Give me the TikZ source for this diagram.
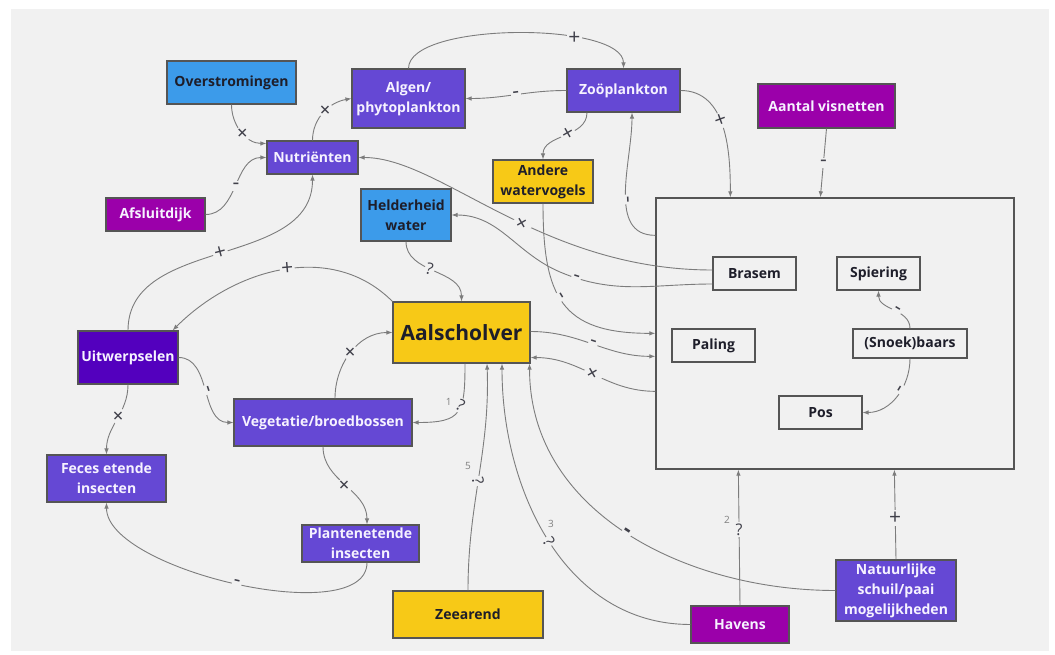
\documentclass[tikz,border=0pt]{standalone}
\usepackage{fontspec}
\setmainfont{Open Sans}
\usetikzlibrary{arrows.meta}
\definecolor{bg}{HTML}{F1F1F1}
\definecolor{lijn}{HTML}{7C7C7C}
\definecolor{rand}{HTML}{555555}
\definecolor{blauw}{HTML}{3C9BEA}
\definecolor{paars}{HTML}{6548D4}
\definecolor{donkerpaars}{HTML}{5300BE}
\definecolor{fuchsia}{HTML}{9B00AA}
\definecolor{geel}{HTML}{F7C917}
\definecolor{donker}{HTML}{1E1E2A}
\definecolor{licht}{HTML}{F6F2FF}

\begin{document}
\begin{tikzpicture}[x=1pt, y=1pt, font=\fontsize{14}{20}\selectfont\bfseries, >={Latex[length=6pt,width=4.5pt]},
  box/.style = {draw=rand, line width=1.1pt, align=center, inner sep=2pt},
  blauwbox/.style = {box, fill=blauw, text=donker},
  paarsbox/.style = {box, fill=paars, text=licht},
  donkerbox/.style = {box, fill=donkerpaars, text=licht},
  fuchsiabox/.style = {box, fill=fuchsia, text=licht},
  geelbox/.style = {box, fill=geel, text=donker},
  visbox/.style = {box, fill=bg, text=donker, minimum width=83pt, minimum height=33pt},
  pijl/.style = {->, draw=lijn, line width=0.9pt},
  teken/.style = {fill=bg, inner sep=1.5pt, text=donker!85, font=\fontsize{21}{21}\selectfont},
  vraag/.style = {teken, font=\fontsize{16}{16}\selectfont},
  getal/.style = {text=gray, inner sep=0pt, font=\fontsize{10}{10}\selectfont}]
                \useasboundingbox (0,0) rectangle (1055,-655);
                \fill[white] (0,0) rectangle (1055,-655);
                \fill[bg] (11,-9) rectangle (1049,-651);
                \node[box, fill=bg, line width=1.3pt, minimum width=358pt, minimum height=271pt] (vis) at (835,-333.5) {};
                \node[visbox] (brasem) at (754.5,-273.5) {Brasem};
                \node[visbox] (spiering) at (878.5,-273.5) {Spiering};
                \node[visbox] (paling) at (713.5,-345.5) {Paling};
                \node[visbox, minimum width=114pt, minimum height=29pt] (baars) at (910,-343.5) {(Snoek)baars};
                \node[visbox] (pos) at (820.5,-412.5) {Pos};
                \node[blauwbox, minimum width=129pt, minimum height=43pt] (over) at (231.5,-82.5) {Overstromingen};
                \node[paarsbox, minimum width=113pt, minimum height=59pt] (algen) at (408.5,-98.5) {Algen/\\phytoplankton};
                \node[paarsbox, minimum width=113pt, minimum height=43pt] (zoo) at (623.5,-90.5) {Zoöplankton};
                \node[fuchsiabox, minimum width=137pt, minimum height=44pt] (netten) at (826.5,-106) {Aantal visnetten};
                \node[paarsbox, minimum width=91pt, minimum height=33pt] (nutr) at (312.5,-157.5) {Nutriënten};
                \node[fuchsiabox, minimum width=99pt, minimum height=33pt] (dijk) at (155.5,-214.5) {Afsluitdijk};
                \node[blauwbox, minimum width=90pt, minimum height=52pt] (helder) at (406,-215) {Helderheid\\water};
                \node[geelbox, minimum width=100pt, minimum height=43pt] (vogels) at (543,-181.5) {Andere\\watervogels};
                \node[geelbox, minimum width=137pt, minimum height=61pt, font=\fontsize{21}{21}\selectfont\bfseries] (aal) at (461.5,-332.5) {Aalscholver};
                \node[donkerbox, minimum width=100pt, minimum height=53pt] (uitw) at (128,-357.5) {Uitwerpselen};
                \node[paarsbox, minimum width=178pt, minimum height=47pt] (veget) at (323,-422.5) {Vegetatie/broedbossen};
                \node[paarsbox, minimum width=119pt, minimum height=47pt] (feces) at (106.5,-478.5) {Feces etende\\insecten};
                \node[paarsbox, minimum width=117pt, minimum height=37pt] (plant) at (360.5,-543.5) {Plantenetende\\insecten};
                \node[geelbox, minimum width=150pt, minimum height=47pt] (zee) at (468,-614.5) {Zeearend};
                \node[fuchsiabox, minimum width=98pt, minimum height=37pt] (havens) at (740,-624.5) {Havens};
                \node[paarsbox, minimum width=120pt, minimum height=61pt] (schuil) at (896,-590.5) {Natuurlijke\\schuil/paai\\mogelijkheden};
                \draw[pijl] (over.south) to[out=-90, in=180] node[teken, pos=0.55, rotate=45] {+} ([yshift=-3pt]nutr.north west);
                \draw[pijl] (dijk.east) to[out=0, in=180] node[teken, pos=0.5] {-} (nutr.west);
                \draw[pijl] (nutr.north) to[out=90, in=190] node[teken, pos=0.55, rotate=45] {+} (algen.west);
                \draw[pijl] (algen.north) .. controls +(0,47) and +(0,47) .. node[teken, pos=0.69] {+} (zoo.north);
                \draw[pijl] (zoo.west) to[out=180, in=0] node[teken, pos=0.5, sloped] {-} (algen.east);
                \draw[pijl] ([xshift=-36.5pt]zoo.south) to[out=-90, in=90] node[teken, pos=0.45, rotate=30] {+} (vogels.north);
                \draw[pijl] (zoo.east) to[out=0, in=90] node[teken, pos=0.45, rotate=20] {+} ([xshift=75pt]vis.north west);
                \draw[pijl] (netten.south) -- node[teken, pos=0.5] {-} ([xshift=165pt]vis.north west);
                \draw[pijl] ([yshift=-38pt]vis.north west) to[out=180, in=-90] node[teken, pos=0.45, sloped] {-} ([xshift=8.5pt]zoo.south);
                \draw[pijl] ([yshift=3.5pt]brasem.west) .. controls +(-173,0) and +(82,0) .. node[teken, pos=0.44, rotate=30] {+} (nutr.east);
                \draw[pijl] ([yshift=-10.5pt]brasem.west) to[out=180, in=-23] node[teken, pos=0.9, sloped] {-} (560,-272) to[out=157, in=0] (helder.east);
                \draw[pijl] (helder.south) to[out=-90, in=90] node[vraag, pos=0.45, rotate=-15] {?} (aal.north);
                \draw[pijl] (vogels.south) to[out=-90, in=180, looseness=1.4] node[teken, pos=0.45, sloped] {-} ([yshift=-136pt]vis.north west);
                \draw[pijl] ([yshift=1pt]aal.east) to[out=0, in=180] node[teken, pos=0.5, sloped] {-} ([yshift=-159pt]vis.north west);
                \draw[pijl] ([yshift=-194pt]vis.north west) to[out=180, in=0] node[teken, pos=0.5, rotate=30] {+} ([yshift=6pt]aal.south east);
                \draw[pijl] (aal.north west) to[out=135, in=45] node[teken, pos=0.48, rotate=5] {+} ([xshift=-6pt]uitw.north east);
                \draw[pijl] (uitw.north) to[out=90, in=-90] node[teken, pos=0.5, rotate=15] {+} (nutr.south);
                \draw[pijl] (uitw.east) to[out=0, in=180] node[teken, pos=0.5, sloped] {-} (veget.west);
                \draw[pijl] (uitw.south) to[out=-90, in=90] node[teken, pos=0.45, rotate=45] {+} (feces.north);
                \draw[pijl] ([xshift=12pt]veget.north) to[out=90, in=180] node[teken, pos=0.5, rotate=45] {+} (aal.west);
                \draw[pijl] ([xshift=3.5pt]aal.south) to[out=-90, in=0, looseness=1.6] node[vraag, pos=0.4, rotate=-30] {?} node[getal, pos=0.4, xshift=-12pt, yshift=4pt] {1} (veget.east);
                \draw[pijl] (veget.south) to[out=-90, in=90] node[teken, pos=0.5, rotate=45] {+} ([xshift=6.5pt]plant.north);
                \draw[pijl] ([xshift=6.5pt]plant.south) .. controls +(0,-68) and +(0,-68) .. node[teken, pos=0.5, sloped] {-} (feces.south);
                \draw[pijl] (zee.north) to[out=90, in=-88] node[vraag, pos=0.48, rotate=-80] {?} node[getal, pos=0.48, xshift=-10pt, yshift=15pt] {5} ([xshift=25.5pt]aal.south);
                \draw[pijl] (havens.west) to[out=180, in=-90] node[vraag, pos=0.5, rotate=-60] {?} node[getal, pos=0.5, xshift=2pt, yshift=17pt] {3} ([xshift=40.5pt]aal.south);
                \draw[pijl] (schuil.west) to[out=180, in=-90] node[teken, pos=0.5, sloped, font=\fontsize{22}{22}\selectfont\bfseries] {-} ([xshift=-1pt]aal.south east);
                \draw[pijl] (havens.north) -- node[vraag, pos=0.56] {?} node[getal, pos=0.56, xshift=-12pt, yshift=10pt] {2} ([xshift=83pt]vis.south west);
                \draw[pijl] (schuil.north) -- node[teken, pos=0.46] {+} ([xshift=239pt]vis.south west);
                \draw[pijl] (baars.north) to[out=90, in=-90] node[teken, pos=0.45, sloped] {-} (spiering.south);
                \draw[pijl] (baars.south) to[out=-90, in=0] node[teken, pos=0.4, sloped] {-} (pos.east);
            \end{tikzpicture}
\end{document}
